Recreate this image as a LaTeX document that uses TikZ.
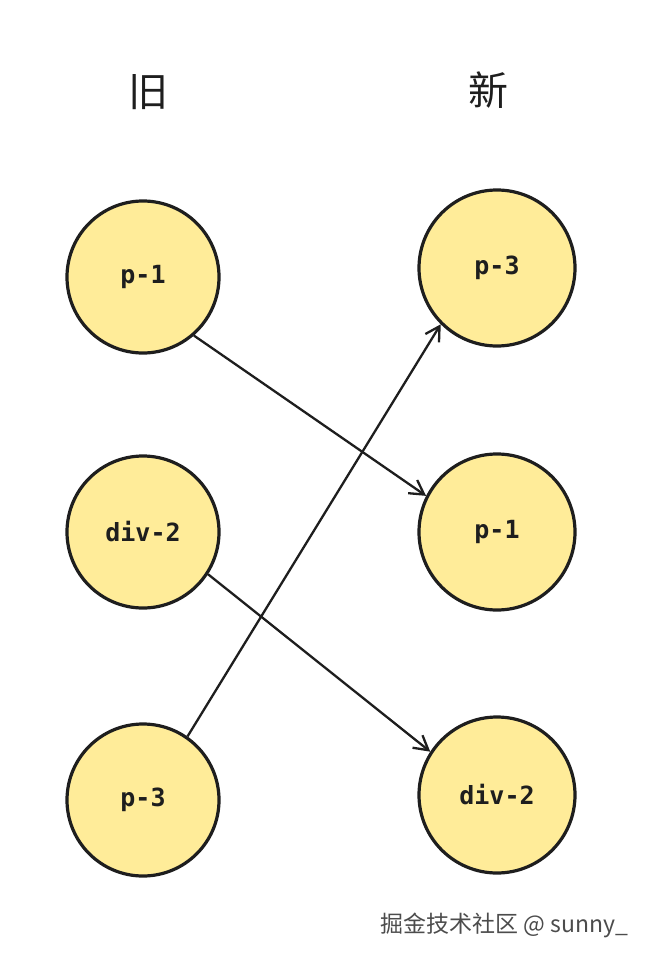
\documentclass[tikz,border=0pt]{standalone}
\usepackage{fontspec}
\newfontfamily\cjk{Noto Sans CJK SC}
\newfontfamily\monob{DejaVu Sans Mono}
\usetikzlibrary{arrows.meta}
\definecolor{fillY}{HTML}{FFEC99}
\definecolor{ink}{HTML}{1E1E1E}
\begin{document}
\begin{tikzpicture}[x=1pt,y=-1pt,
  circ/.style={circle,draw=ink,line width=3.2pt,fill=fillY,minimum size=152pt,inner sep=0pt,font=\monob\bfseries\fontsize{25}{25}\selectfont,text=ink},
  arr/.style={draw=ink,line width=2.3pt,-{Straight Barb[length=14pt,width=16pt]}},
  head/.style={font=\cjk\fontsize{40}{40}\selectfont,text=ink}]
\useasboundingbox (0,0) rectangle (652,960);
\node[head] (h1) at (148,92) {旧};
\node[head] (h2) at (488,90) {新};
\node[circ] (l1) at (143,277) {p-1};
\node[circ] (l2) at (143,532) {div-2};
\node[circ] (l3) at (143,800) {p-3};
\node[circ,minimum size=156pt] (r1) at (497,268) {p-3};
\node[circ,minimum size=156pt] (r2) at (497,532) {p-1};
\node[circ,minimum size=156pt] (r3) at (497,795) {div-2};
\draw[arr] (l1.-49) -- (r2.153);
\draw[arr] (l2.-33) -- (r3.147);
\draw[arr] (l3.55) -- (r1.-135);
\node[font=\cjk\fontsize{23}{23}\selectfont,text=black!70,anchor=east] (wm) at (632,925) {掘金技术社区 @ sunny\_};
\end{tikzpicture}
\end{document}
